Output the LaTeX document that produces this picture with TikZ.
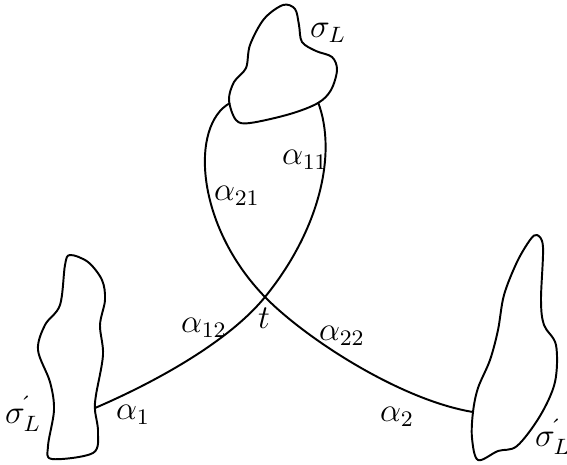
\documentclass[tikz,border=0pt]{standalone}
\begin{document}
\begin{tikzpicture}[x=0.36pt,y=-0.36pt,
  blob/.style={line width=0.7pt,line join=round},
  arc/.style={line width=0.7pt},
  lab/.style={inner sep=0pt,font=\large}]
\useasboundingbox (0,0) rectangle (567,464);
% blobs
\draw[blob] plot[smooth cycle,tension=0.55] coordinates {
 (283,5) (295,9) (299,25) (302,42) (316,51) (332,57) (337,70) (331,90) (318,103)
 (290,114) (250,123) (236,120) (229,100) (234,82) (246,68) (250,45) (264,19)};
\draw[blob] plot[smooth cycle,tension=0.55] coordinates {
 (70,255) (88,262) (102,280) (105,300) (100,325) (103,355) (96,395) (95,410)
 (98,432) (93,453) (52,459) (48,446) (54,410) (50,382) (38,350) (45,325)
 (60,305) (65,265)};
\draw[blob] plot[smooth cycle,tension=0.55] coordinates {
 (537,235) (543,247) (541,300) (544,325) (556,345) (555,382) (540,416) (517,446)
 (498,451) (478,460) (472,438) (473,412) (478,388) (490,360) (498,330) (504,295)
 (517,262) (530,240)};
% attach points
\coordinate (A) at (230,103);
\coordinate (C) at (318,102);
\coordinate (X) at (265,297);
\coordinate (B) at (473,412);
\coordinate (D) at (95,408);
% arcs
\draw[arc] (A) .. controls (190,125) and (195,225) .. (X)
               .. controls (305,338) and (400,400) .. (B);
\draw[arc] (C) .. controls (338,155) and (318,232) .. (X)
               .. controls (230,340) and (160,380) .. (D);
% labels
\node[lab] (sL) at (328,33) {$\sigma_L$};
\node[lab] (sLl) at (23,414) {$\sigma^{\acute{}}_L$};
\node[lab] (sLr) at (553,437) {$\sigma^{\acute{}}_L$};
\node[lab] (a1) at (133,415) {$\alpha_1$};
\node[lab] (a12) at (204,328) {$\alpha_{12}$};
\node[lab] (tl) at (264,318) {$t$};
\node[lab] (a22) at (342,336) {$\alpha_{22}$};
\node[lab] (a2) at (397,417) {$\alpha_2$};
\node[lab] (a21) at (237,196) {$\alpha_{21}$};
\node[lab] (a11) at (305,160) {$\alpha_{11}$};
\end{tikzpicture}
\end{document}
